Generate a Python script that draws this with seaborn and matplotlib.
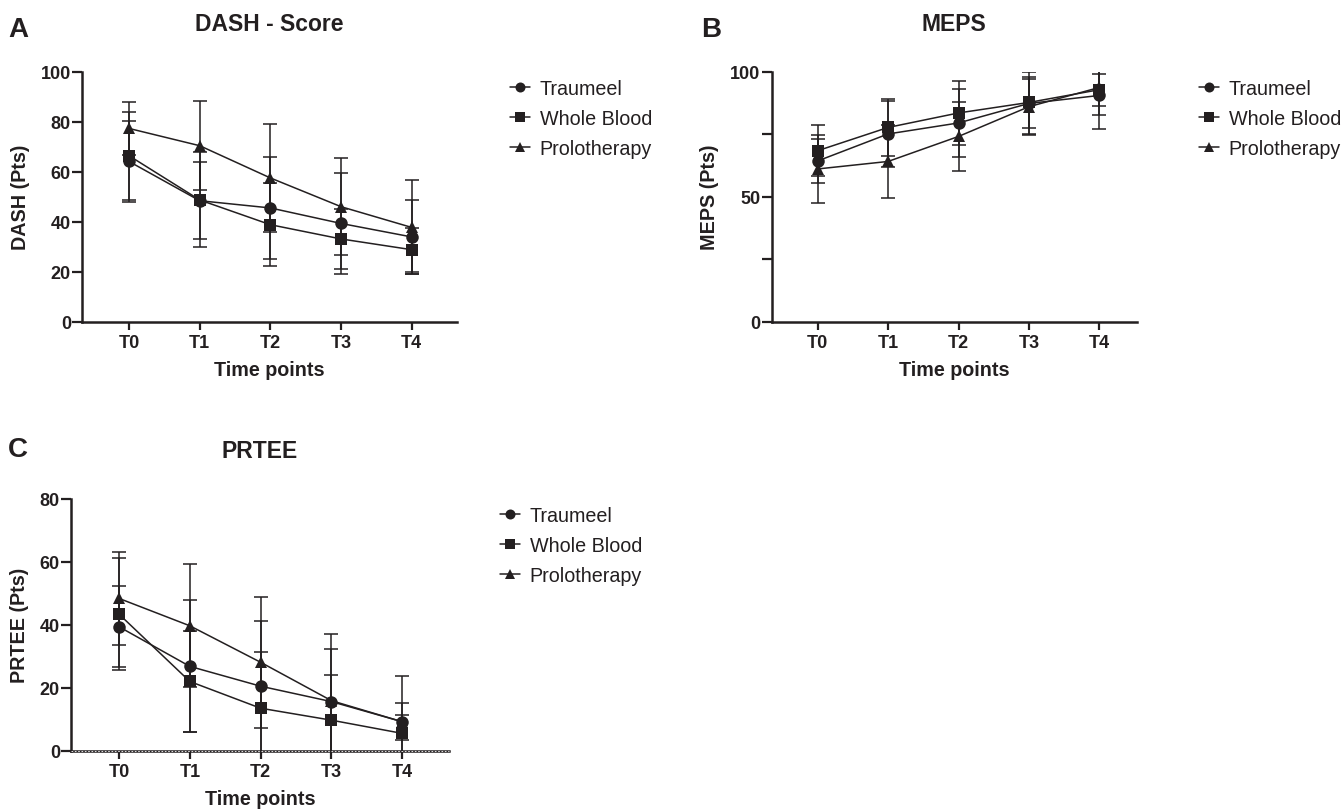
import numpy as np
import pandas as pd
import matplotlib
matplotlib.use("Agg")
import matplotlib.pyplot as plt
import seaborn as sns

time_labels = ["T0", "T1", "T2", "T3", "T4"]
groups = ["Traumeel", "Whole Blood", "Prolotherapy"]

# mean and SD per group
dash_traumeel = [64.1, 48.4, 45.5, 39.3, 33.9]
dash_traumeel_sd = [16.3, 15.4, 20.3, 20.2, 14.9]
dash_whole_blood = [66.4, 48.7, 38.8, 33.1, 28.8]
dash_whole_blood_sd = [17.6, 19.0, 16.5, 12.0, 8.8]
dash_prolotherapy = [77.3, 70.4, 57.5, 46.0, 37.7]
dash_prolotherapy_sd = [10.5, 17.9, 21.5, 19.5, 18.8]

meps_traumeel = [64.3, 75.1, 79.5, 87.3, 90.5]
meps_traumeel_sd = [8.8, 13.3, 13.6, 12.6, 13.4]
meps_whole_blood = [68.4, 77.7, 83.5, 87.7, 92.8]
meps_whole_blood_sd = [10.3, 11.4, 12.9, 10.1, 6.4]
meps_prolotherapy = [61.1, 64.1, 74.1, 86.0, 93.7]
meps_prolotherapy_sd = [13.6, 14.6, 13.7, 11.1, 10.9]

prtee_traumeel = [39.4, 26.8, 20.5, 15.6, 9.2]
prtee_traumeel_sd = [12.9, 21.0, 20.8, 16.6, 5.9]
prtee_whole_blood = [43.4, 22.0, 13.5, 9.7, 5.5]
prtee_whole_blood_sd = [17.8, 16.2, 17.8, 14.5, 6.0]
prtee_prolotherapy = [48.4, 39.7, 28.1, 15.9, 9.2]
prtee_prolotherapy_sd = [14.9, 19.6, 20.8, 21.2, 14.5]

INK = "#231f20"

sns.set_style("ticks")
plt.rcParams["font.family"] = ["Liberation Sans", "DejaVu Sans"]
plt.rcParams["text.color"] = INK
plt.rcParams["axes.labelcolor"] = INK
plt.rcParams["xtick.color"] = INK
plt.rcParams["ytick.color"] = INK

W, H = 1343, 812
fig = plt.figure(figsize=(W / 100, H / 100), dpi=100)


def px_axes(left, top, right, bottom):
    return fig.add_axes([left / W, 1 - bottom / H, (right - left) / W, (bottom - top) / H])


def long_table(means, sds):
    rows = []
    for g, m, s in zip(groups, means, sds):
        for i, t in enumerate(time_labels):
            rows.append({"time": i, "label": t, "group": g, "mean": m[i], "sd": s[i]})
    return pd.DataFrame(rows)


markers = {"Traumeel": "o", "Whole Blood": "s", "Prolotherapy": "^"}
msizes = {"Traumeel": 9, "Whole Blood": 9, "Prolotherapy": 8.5}


def panel(ax, df, title, ylabel, ymax, yticks, ylabels, xlim, letter, letter_xy,
          legend_xy, show_xlabel=True):
    for g in groups:
        sub = df[df["group"] == g]
        ax.errorbar(sub["time"], sub["mean"], yerr=sub["sd"], fmt="none",
                    ecolor=INK, elinewidth=1.1, capsize=5, capthick=1.1, zorder=2)
    sns.lineplot(data=df, x="time", y="mean", hue="group", style="group",
                 hue_order=groups, style_order=groups,
                 palette=[INK] * 3, markers=markers, dashes=False,
                 markersize=9, markeredgewidth=0, linewidth=1.1,
                 ax=ax, zorder=3, legend=True)
    for line in ax.get_lines():
        lab = line.get_label()
        if lab in msizes:
            line.set_markersize(msizes[lab])
    handles, labels = ax.get_legend_handles_labels()
    for h, l in zip(handles, labels):
        h.set_markersize(msizes.get(l, 8) * 0.8)
    ax.get_legend().remove()
    fig.legend(handles, labels, loc="upper left",
               bbox_to_anchor=(legend_xy[0] / W, 1 - legend_xy[1] / H),
               frameon=False, fontsize=14.2, handlelength=1.0, handletextpad=0.5,
               labelspacing=0.56, borderpad=0, borderaxespad=0)

    ax.set_xlim(*xlim)
    ax.set_ylim(0, ymax)
    ax.set_xticks(range(len(time_labels)))
    ax.set_xticklabels(time_labels, fontweight="bold", fontsize=13)
    ax.set_yticks(yticks)
    ax.set_yticklabels(ylabels, fontweight="bold", fontsize=13)
    ax.tick_params(axis="x", length=6, width=1.6, pad=3)
    ax.tick_params(axis="y", length=7, width=1.6, pad=1)
    sns.despine(ax=ax)
    for side in ["left", "bottom"]:
        ax.spines[side].set_linewidth(1.8)
        ax.spines[side].set_color(INK)
    ax.set_title(title, fontweight="bold", fontsize=16.5, pad=30)
    ax.set_ylabel(ylabel, fontweight="bold", fontsize=14.2, labelpad=8)
    if show_xlabel:
        ax.set_xlabel("Time points", fontweight="bold", fontsize=14.2, labelpad=6)
    else:
        ax.set_xlabel("")
    fig.text(letter_xy[0] / W, 1 - letter_xy[1] / H, letter, fontweight="bold",
             fontsize=20, va="baseline", ha="left")


ax_a = px_axes(82, 72.7, 457, 322.7)
panel(ax_a,
      long_table([dash_traumeel, dash_whole_blood, dash_prolotherapy],
                 [dash_traumeel_sd, dash_whole_blood_sd, dash_prolotherapy_sd]),
      "DASH - Score", "DASH (Pts)", 100, [0, 20, 40, 60, 80, 100],
      ["0", "20", "40", "60", "80", "100"], (-0.665, 4.64), "A", (8, 36.7), (510, 80))

ax_b = px_axes(771.7, 72.7, 1137, 322.7)
panel(ax_b,
      long_table([meps_traumeel, meps_whole_blood, meps_prolotherapy],
                 [meps_traumeel_sd, meps_whole_blood_sd, meps_prolotherapy_sd]),
      "MEPS", "MEPS (Pts)", 100, [0, 25, 50, 75, 100],
      ["0", "", "50", "", "100"], (-0.653, 4.535), "B", (700.7, 36.7), (1199, 80))

ax_c = px_axes(71, 500, 449, 751.7)
panel(ax_c,
      long_table([prtee_traumeel, prtee_whole_blood, prtee_prolotherapy],
                 [prtee_traumeel_sd, prtee_whole_blood_sd, prtee_prolotherapy_sd]),
      "PRTEE", "PRTEE (Pts)", 80, [0, 20, 40, 60, 80],
      ["0", "20", "40", "60", "80"], (-0.678, 4.66), "C", (8, 456.7), (500, 507))
# dotted baseline drawn over the x axis of panel C
ax_c.axhline(0, color="white", lw=0.6, ls=(0, (2, 2)), zorder=5, clip_on=False)

fig.savefig("out.png", dpi=100)
